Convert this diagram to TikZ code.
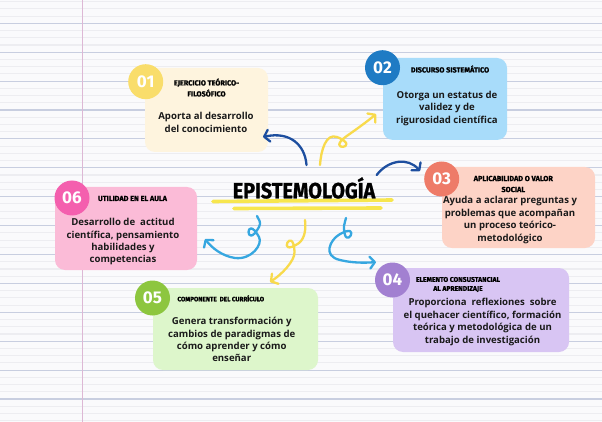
\documentclass[tikz,border=0pt]{standalone}
\usepackage{fontspec}
\setmainfont{Open Sans}
\newfontfamily\headfont{Fira Sans}
\newfontfamily\heavyfont{Fira Sans}[BoldFeatures={FakeBold=1.2}]
\usetikzlibrary{arrows.meta}
\definecolor{paper}{HTML}{FAFAFC}
\definecolor{faintline}{HTML}{EDEDF1}
\definecolor{ruleline}{HTML}{C8CEE0}
\definecolor{marginline}{HTML}{DDB8D5}
\definecolor{cream}{HTML}{FEF4DE}
\definecolor{sun}{HTML}{F9DD6B}
\definecolor{skyfill}{HTML}{A8DCFA}
\definecolor{ocean}{HTML}{1F7BC4}
\definecolor{peach}{HTML}{FDD3C6}
\definecolor{coral}{HTML}{EE7B68}
\definecolor{rose}{HTML}{FBBBD7}
\definecolor{hotpink}{HTML}{F45FAE}
\definecolor{mint}{HTML}{DDF6CB}
\definecolor{leaf}{HTML}{8DC63F}
\definecolor{lilac}{HTML}{D8C5F3}
\definecolor{violet}{HTML}{A280D1}
\definecolor{navyarrow}{HTML}{1D4E9F}
\definecolor{skyarrow}{HTML}{36A7E0}
\definecolor{sunarrow}{HTML}{F8DA4C}
\definecolor{marker}{HTML}{F7E43C}
\definecolor{inkblack}{HTML}{1A1A1A}
\begin{document}
\begin{tikzpicture}[x=1pt,y=-1pt,
    card/.style={rounded corners=10pt, inner sep=0pt},
    numdot/.style={circle, minimum size=35pt, inner sep=0pt, text=white,
      font=\headfont\bfseries\fontsize{17}{17}\selectfont},
    cardhead/.style={align=center, inner sep=0pt, text=black,
      font=\heavyfont\bfseries\fontsize{7.3}{11}\selectfont},
    cardbody/.style={align=center, inner sep=0pt, text=inkblack,
      font=\bfseries\fontsize{9.6}{12.4}\selectfont},
    curl/.style={line width=2.3pt, line cap=round, line join=round,
      -{Straight Barb[length=5pt,width=12pt,round]}},
    highlight/.style={line width=3.6pt, line cap=round, draw=marker, opacity=0.9}]
  \useasboundingbox (0,0) rectangle (602,422);
  \fill[paper] (0,0) rectangle (602,422);
  \foreach \k in {-3,...,55}
    \draw[faintline, line width=1.1pt] (0,{23.3+7.225*\k}) -- (602,{23.3+7.225*\k});
  \foreach \k in {0,...,13}
    \draw[ruleline, line width=1.1pt] (0,{23.3+28.9*\k}) -- (602,{23.3+28.9*\k});
  \draw[marginline, line width=1.4pt] (82.7,0) -- (82.7,422);

  \node[card, fill=cream, minimum width=123pt, minimum height=84pt] (card1) at (206.5,110) {};
  \node[card, fill=skyfill, minimum width=124pt, minimum height=82pt] (card2) at (445,99) {};
  \node[card, fill=peach, minimum width=153pt, minimum height=81pt] (card3) at (518.5,207.5) {};
  \node[card, fill=rose, minimum width=142pt, minimum height=83pt] (card6) at (126,228.5) {};
  \node[card, fill=mint, minimum width=165pt, minimum height=82pt] (card5) at (235.5,329) {};
  \node[card, fill=lilac, minimum width=176pt, minimum height=84pt] (card4) at (481,310) {};

  \node[numdot, fill=sun] (num1) at (145.7,81.7) {01};
  \node[numdot, fill=ocean] (num2) at (382.5,67.7) {02};
  \node[numdot, fill=coral] (num3) at (441.7,179) {03};
  \node[numdot, fill=hotpink] (num6) at (72,198) {06};
  \node[numdot, fill=leaf] (num5) at (152.5,298) {05};
  \node[numdot, fill=violet] (num4) at (392.5,280) {04};

  \node[cardhead] (head1) at (206.5,87.5) {EJERCICIO TEÓRICO-\\FILOSÓFICO};
  \node[cardhead] (head2) at (450,69) {DISCURSO SISTEMÁTICO};
  \node[cardhead] (head3) at (513.3,184) {APLICABILIDAD O VALOR\\SOCIAL};
  \node[cardhead] (head6) at (132.5,198.5) {UTILIDAD EN EL AULA};
  \node[cardhead, font=\heavyfont\bfseries\fontsize{6.3}{9}\selectfont] (head5) at (220.8,298.3) {COMPONENTE\ \ DEL CURRÍCULO};
  \node[cardhead, font=\heavyfont\bfseries\fontsize{6.8}{9}\selectfont] (head4) at (458,284.5) {ELEMENTO CONSUSTANCIAL\\AL APRENDIZAJE};

  \node[cardbody] (body1) at (206,122.5) {Aporta al desarrollo\\del conocimiento};
  \node[cardbody] (body2) at (447,108.5) {Otorga un estatus de\\validez y de\\rigurosidad científica};
  \node[cardbody] (body3) at (510,220) {Ayuda a aclarar preguntas y\\problemas que acompañan\\un proceso teórico-\\metodológico};
  \node[cardbody] (body6) at (123,241.8) {Desarrollo de\ \ actitud\\científica, pensamiento\\habilidades y\\competencias};
  \node[cardbody] (body5) at (231.7,339.6) {Genera transformación y\\cambios de paradigmas de\\cómo aprender y cómo\\enseñar};
  \node[cardbody] (body4) at (482.5,322) {Proporciona\ \ reflexiones\ \ sobre\\el quehacer científico, formación\\teórica y metodológica de un\\trabajo de investigación};

  \draw[highlight] (213,201.5) -- (392,200);
  \draw[highlight] (234,208.5) -- (381,208);
  \node[anchor=base, inner sep=0pt, font=\heavyfont\bfseries\fontsize{22}{22}\selectfont] (epi) at (304,198.3) {\scalebox{0.9}[1]{EPISTEMOLOGÍA}};

  \coordinate (a1s) at (306.5,165);
  \coordinate (a1e) at (263,137);
  \coordinate (a2s) at (320,165);
  \coordinate (a2e) at (376,114);
  \coordinate (a3s) at (376.7,175);
  \coordinate (a3e) at (420,171);
  \coordinate (a6s) at (257,216);
  \coordinate (a6e) at (205,239);
  \coordinate (a5s) at (305,220);
  \coordinate (a5e) at (270,282);
  \coordinate (a4s) at (346,218);
  \coordinate (a4e) at (376,262);
  \draw[curl, navyarrow] (a1s) .. controls (305,145) and (290,131) .. (a1e);
  \draw[curl, sunarrow] (a2s) .. controls (321,150) and (326,133) .. (337,137)
    .. controls (363.3,148.1) and (323.7,152.5) .. (346.9,135.9)
    .. controls (354,131) and (368,121) .. (a2e);
  \draw[curl, navyarrow] (a3s) .. controls (388,160) and (408,157) .. (a3e);
  \draw[curl, skyarrow] (a6s) .. controls (258,219) and (262,222) .. (259,227)
    .. controls (245,252) and (245,212) .. (259,237)
    .. controls (263,244) and (252,260) .. (235,258)
    .. controls (222,256) and (212,248) .. (a6e);
  \draw[curl, sunarrow] (a5s) .. controls (306,229) and (305,238) .. (299,243)
    .. controls (275.2,259.2) and (293.2,223.2) .. (294.5,252)
    .. controls (295,261) and (281,275) .. (a5e);
  \draw[curl, skyarrow] (a4s) .. controls (345.5,220) and (344.5,223) .. (344,226)
    .. controls (343.7,254.8) and (363.7,220) .. (339,234.7)
    .. controls (330.5,239.7) and (322,256) .. (340,260)
    .. controls (352,263) and (365,263) .. (a4e);
\end{tikzpicture}
\end{document}
